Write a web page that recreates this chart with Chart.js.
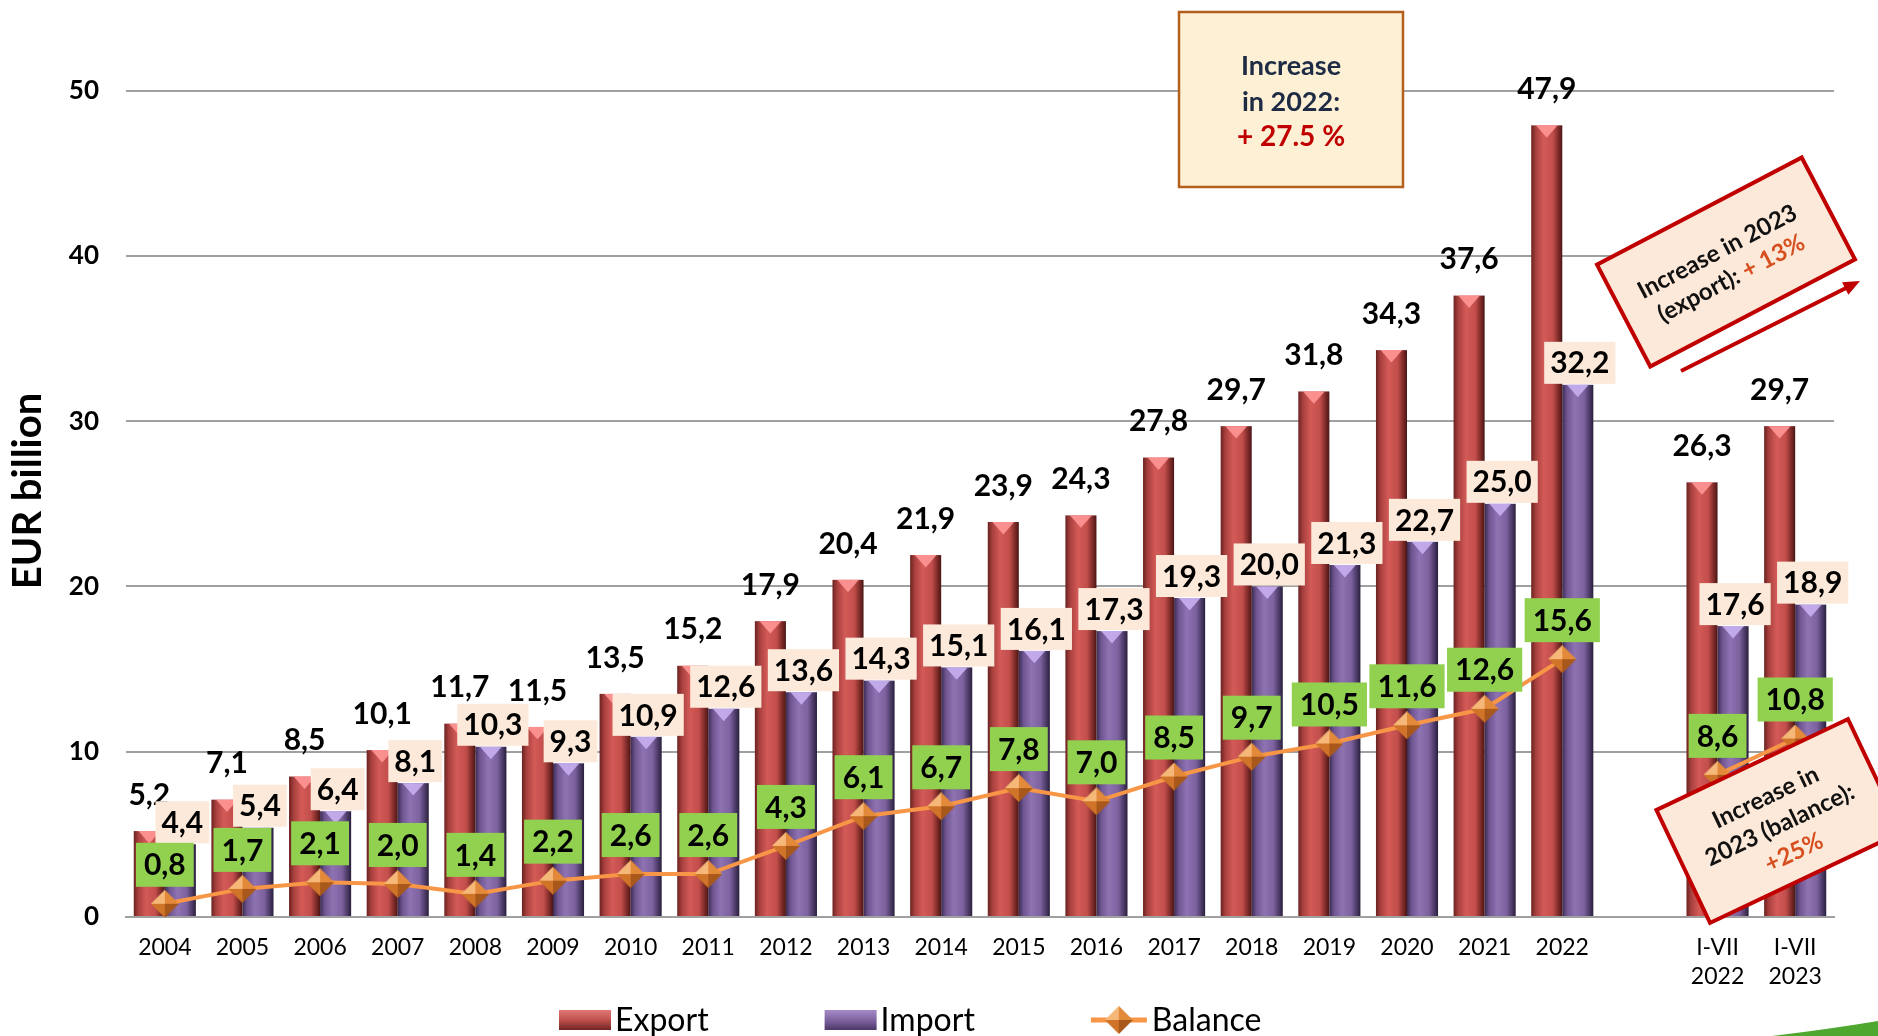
<!DOCTYPE html>
<html lang="en">
<head>
    <meta charset="UTF-8" />
    <title>Export, import and balance</title>
    <style>
        body { margin: 0; background: #fff; }
        canvas { display: block; }
    </style>
    <script src="https://cdn.jsdelivr.net/npm/chart.js"></script>
</head>
<body>
    <canvas id="chart" width="1878" height="1036"></canvas>

    <script>
        const categories = ['2004', '2005', '2006', '2007', '2008', '2009', '2010', '2011', '2012', '2013',
            '2014', '2015', '2016', '2017', '2018', '2019', '2020', '2021', '2022', '',
            ['I-VII', '2022'], ['I-VII', '2023']];
        const exportValues = [5.2, 7.1, 8.5, 10.1, 11.7, 11.5, 13.5, 15.2, 17.9, 20.4,
            21.9, 23.9, 24.3, 27.8, 29.7, 31.8, 34.3, 37.6, 47.9, null, 26.3, 29.7];
        const importValues = [4.4, 5.4, 6.4, 8.1, 10.3, 9.3, 10.9, 12.6, 13.6, 14.3,
            15.1, 16.1, 17.3, 19.3, 20.0, 21.3, 22.7, 25.0, 32.2, null, 17.6, 18.9];
        const balanceValues = [0.8, 1.7, 2.1, 2.0, 1.4, 2.2, 2.6, 2.6, 4.3, 6.1,
            6.7, 7.8, 7.0, 8.5, 9.7, 10.5, 11.6, 12.6, 15.6, null, 8.6, 10.8];

        const FONT = 'Lato, "Open Sans", sans-serif';

        function fmt(v) {
            return v.toFixed(1).replace('.', ',');
        }

        // orange pyramid-like diamond used for the balance points
        function makeDiamond(size) {
            const c = document.createElement('canvas');
            c.width = size;
            c.height = size;
            const g = c.getContext('2d');
            const m = size / 2;
            const facets = [
                ['#f6b878', [[0, m], [m, 0], [m, m]]],
                ['#e3893a', [[m, 0], [size, m], [m, m]]],
                ['#a9581b', [[size, m], [m, size], [m, m]]],
                ['#cf7428', [[m, size], [0, m], [m, m]]]
            ];
            facets.forEach(f => {
                g.fillStyle = f[0];
                g.beginPath();
                f[1].forEach((p, i) => i ? g.lineTo(p[0], p[1]) : g.moveTo(p[0], p[1]));
                g.closePath();
                g.fill();
            });
            return c;
        }
        const diamond = makeDiamond(28);

        // bars with a cylinder-like shading and a light bevel on top
        const shadedBars = {
            id: 'shadedBars',
            beforeDatasetDraw(chart, args) {
                if (args.meta.type !== 'bar') return;
                const ds = chart.data.datasets[args.index];
                const ctx = chart.ctx;
                ctx.save();
                args.meta.data.forEach((bar, i) => {
                    if (ds.data[i] == null) return;
                    const left = bar.x - bar.width / 2;
                    const w = bar.width;
                    const g = ctx.createLinearGradient(left, 0, left + w, 0);
                    ds.shade.forEach(s => g.addColorStop(s[0], s[1]));
                    ctx.fillStyle = g;
                    ctx.fillRect(left, bar.y, w, bar.base - bar.y);
                    ctx.fillStyle = ds.bevel;
                    ctx.beginPath();
                    ctx.moveTo(left + w * 0.15, bar.y);
                    ctx.lineTo(left + w * 0.85, bar.y);
                    ctx.lineTo(bar.x, bar.y + w * 0.4);
                    ctx.closePath();
                    ctx.fill();
                });
                ctx.restore();
                return false;
            }
        };

        function box(ctx, text, cx, cy, h, padX, fill) {
            const w = ctx.measureText(text).width + padX * 2;
            ctx.fillStyle = fill;
            ctx.fillRect(cx - w / 2, cy - h / 2, w, h);
            ctx.fillStyle = '#000';
            ctx.fillText(text, cx, cy + 1);
        }

        function rotatedNote(ctx, cx, cy, w, h, deg, lines) {
            ctx.save();
            ctx.translate(cx, cy);
            ctx.rotate(deg * Math.PI / 180);
            ctx.fillStyle = '#fde9d9';
            ctx.fillRect(-w / 2, -h / 2, w, h);
            ctx.strokeStyle = '#c00000';
            ctx.lineWidth = 4;
            ctx.strokeRect(-w / 2, -h / 2, w, h);
            ctx.font = `bold 24px ${FONT}`;
            ctx.textBaseline = 'middle';
            ctx.textAlign = 'left';
            lines.forEach(line => {
                const total = line.parts.reduce((s, p) => s + ctx.measureText(p[0]).width, 0);
                let x = line.x - total / 2;
                line.parts.forEach(p => {
                    ctx.fillStyle = p[1];
                    ctx.fillText(p[0], x, line.y);
                    x += ctx.measureText(p[0]).width;
                });
            });
            ctx.restore();
        }

        const labelsAndNotes = {
            id: 'labelsAndNotes',
            afterDraw(chart) {
                const ctx = chart.ctx;
                const ex = chart.getDatasetMeta(0).data;
                const im = chart.getDatasetMeta(1).data;
                const bal = chart.getDatasetMeta(2).data;
                ctx.save();
                ctx.textAlign = 'center';
                ctx.textBaseline = 'middle';

                // y axis title
                ctx.save();
                ctx.translate(28, 491);
                ctx.rotate(-Math.PI / 2);
                ctx.font = `bold 40px ${FONT}`;
                ctx.fillStyle = '#000';
                ctx.fillText('EUR billion', 0, 0);
                ctx.restore();

                ctx.font = `bold 30px ${FONT}`;
                exportValues.forEach((v, i) => {
                    if (v == null) return;
                    ctx.fillStyle = '#000';
                    ctx.fillText(fmt(v), ex[i].x, ex[i].y - 36);
                });
                importValues.forEach((v, i) => {
                    if (v == null) return;
                    box(ctx, fmt(v), im[i].x + 2, im[i].y - 22, 42, 6, '#fde9d9');
                });
                balanceValues.forEach((v, i) => {
                    if (v == null) return;
                    box(ctx, fmt(v), bal[i].x, bal[i].y - 39, 44, 8, '#92d050');
                });

                // note: increase in 2022
                ctx.fillStyle = '#fdf0d5';
                ctx.fillRect(1179, 12, 224, 175);
                ctx.strokeStyle = '#b4601c';
                ctx.lineWidth = 2.5;
                ctx.strokeRect(1179, 12, 224, 175);
                ctx.font = `bold 27px ${FONT}`;
                ctx.fillStyle = '#1e2b45';
                ctx.fillText('Increase', 1291, 66);
                ctx.fillText('in 2022:', 1291, 102);
                ctx.fillStyle = '#c00000';
                ctx.font = `bold 28px ${FONT}`;
                ctx.fillText('+ 27.5 %', 1291, 137);

                rotatedNote(ctx, 1726, 262, 231, 115, -27.6, [
                    { x: -3, y: -13, parts: [['Increase in 2023', '#111']] },
                    { x: -3, y: 17, parts: [['(export): ', '#111'], ['+ 13%', '#d6501f']] }
                ]);

                // arrow
                ctx.strokeStyle = '#c00000';
                ctx.fillStyle = '#c00000';
                ctx.lineWidth = 4;
                ctx.beginPath();
                ctx.moveTo(1681, 371);
                ctx.lineTo(1848, 287);
                ctx.stroke();
                const a = Math.atan2(282 - 371, 1857 - 1681);
                ctx.beginPath();
                ctx.moveTo(1860, 281);
                ctx.lineTo(1860 - 18 * Math.cos(a - 0.4), 281 - 18 * Math.sin(a - 0.4));
                ctx.lineTo(1860 - 18 * Math.cos(a + 0.4), 281 - 18 * Math.sin(a + 0.4));
                ctx.closePath();
                ctx.fill();

                rotatedNote(ctx, 1779, 821, 212, 125, -25.4, [
                    { x: -2, y: -27, parts: [['Increase in', '#111']] },
                    { x: -1, y: 4, parts: [['2023 (balance):', '#111']] },
                    { x: 0, y: 35, parts: [['+25%', '#d6501f']] }
                ]);

                // legend
                ctx.textAlign = 'left';
                ctx.font = `32px ${FONT}`;
                let x = 559;
                const ly = 1020;
                chart.data.datasets.forEach(ds => {
                    if (ds.type === 'bar') {
                        const g = ctx.createLinearGradient(0, ly - 10, 0, ly + 10);
                        g.addColorStop(0, ds.legendShade[0]);
                        g.addColorStop(0.5, ds.legendShade[1]);
                        g.addColorStop(1, ds.legendShade[2]);
                        ctx.fillStyle = g;
                        ctx.fillRect(x, ly - 10, 52, 20);
                        x += 56;
                    } else {
                        ctx.strokeStyle = ds.borderColor;
                        ctx.lineWidth = 5;
                        ctx.beginPath();
                        ctx.moveTo(x, ly);
                        ctx.lineTo(x + 56, ly);
                        ctx.stroke();
                        ctx.drawImage(diamond, x + 14, ly - 14);
                        x += 61;
                    }
                    ctx.fillStyle = '#000';
                    ctx.fillText(ds.label, x, ly + 1);
                    x += ctx.measureText(ds.label).width + 116;
                });

                // green corner swoosh
                ctx.fillStyle = '#4ea72e';
                ctx.beginPath();
                ctx.moveTo(1772, 1036);
                ctx.quadraticCurveTo(1830, 1029, 1878, 1021);
                ctx.lineTo(1878, 1036);
                ctx.closePath();
                ctx.fill();
                ctx.restore();
            }
        };

        new Chart(document.getElementById('chart'), {
            type: 'bar',
            data: {
                labels: categories,
                datasets: [{
                    type: 'bar',
                    label: 'Export',
                    data: exportValues,
                    backgroundColor: '#c0504d',
                    shade: [[0, '#6a2220'], [0.15, '#a8403e'], [0.4, '#d35a57'], [0.7, '#c24e4b'], [0.88, '#7c2a28'], [1, '#4a1615']],
                    bevel: 'rgba(255, 150, 150, 0.9)',
                    legendShade: ['#e07a77', '#c0504d', '#6e2523'],
                    categoryPercentage: 0.8,
                    barPercentage: 1,
                    order: 2
                }, {
                    type: 'bar',
                    label: 'Import',
                    data: importValues,
                    backgroundColor: '#8064a2',
                    shade: [[0, '#3a2b52'], [0.15, '#6f5590'], [0.4, '#8e72b2'], [0.7, '#7d629f'], [0.88, '#4b3a66'], [1, '#2a1f3c']],
                    bevel: 'rgba(200, 175, 240, 0.9)',
                    legendShade: ['#a68bc8', '#8064a2', '#4a3866'],
                    categoryPercentage: 0.8,
                    barPercentage: 1,
                    order: 2
                }, {
                    type: 'line',
                    label: 'Balance',
                    data: balanceValues,
                    borderColor: '#f79646',
                    borderWidth: 4,
                    pointStyle: diamond,
                    pointRadius: 14,
                    tension: 0,
                    spanGaps: false,
                    order: 1
                }]
            },
            options: {
                responsive: false,
                animation: false,
                layout: { autoPadding: false, padding: { top: 8, right: 44, bottom: 0, left: 0 } },
                plugins: {
                    legend: { display: false },
                    tooltip: { enabled: false }
                },
                scales: {
                    x: {
                        grid: { display: false },
                        border: { display: true, color: '#a0a0a0', width: 2 },
                        ticks: {
                            color: '#000',
                            font: { family: FONT, size: 23, lineHeight: 1.25 },
                            padding: 8,
                            maxRotation: 0,
                            autoSkip: false
                        },
                        afterFit(scale) {
                            scale.height = 119;
                            scale.paddingLeft = 0;
                            scale.paddingRight = 0;
                        }
                    },
                    y: {
                        min: 0,
                        max: 55,
                        ticks: {
                            stepSize: 10,
                            color: '#000',
                            font: { family: FONT, size: 26, weight: 'bold' },
                            padding: 27
                        },
                        grid: { color: '#a0a0a0', lineWidth: 2, drawTicks: false },
                        border: { display: false },
                        afterFit(scale) {
                            scale.width = 126;
                            scale.paddingTop = 0;
                            scale.paddingBottom = 0;
                        },
                        afterBuildTicks(scale) {
                            scale.ticks = scale.ticks.filter(t => t.value % 10 === 0);
                        }
                    }
                }
            },
            plugins: [shadedBars, labelsAndNotes]
        });
    </script>
</body>
</html>
